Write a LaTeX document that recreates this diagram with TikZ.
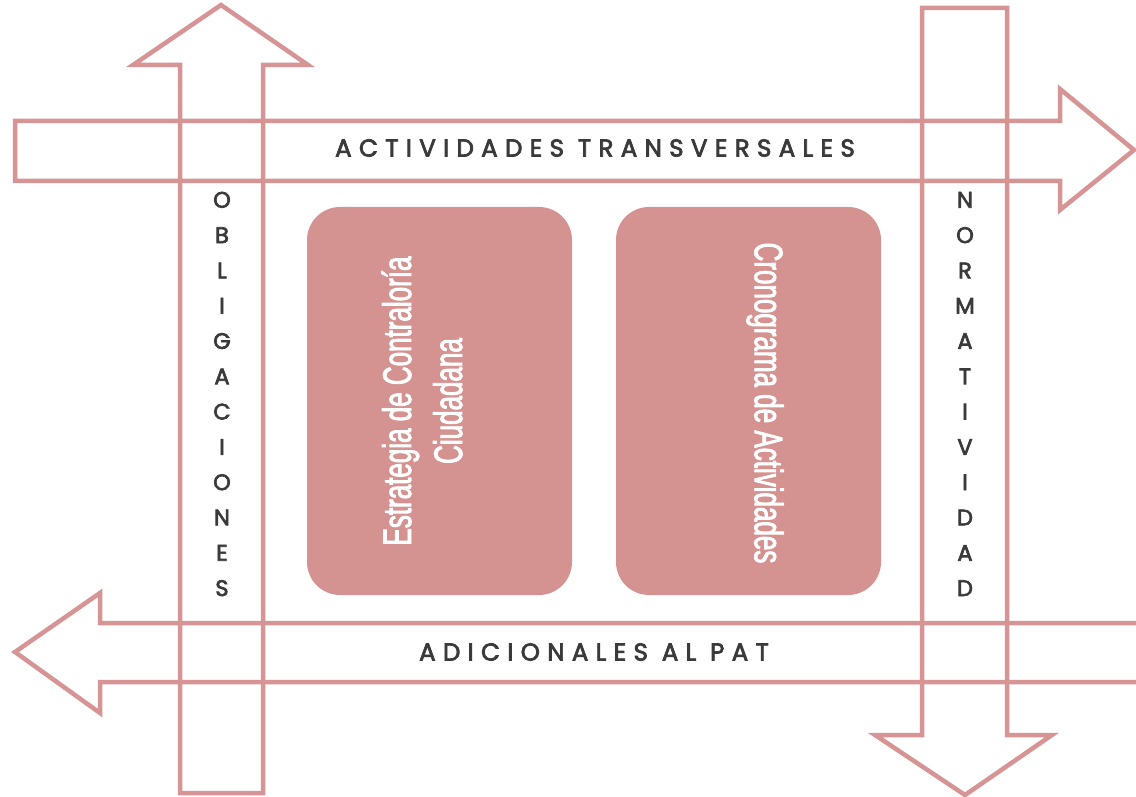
\documentclass[tikz,border=0pt]{standalone}
\usepackage{fontspec}
\setmainfont{Liberation Sans}
\newfontfamily\gothic[FakeBold=3]{Poppins}
\newfontfamily\gothicwide[FakeBold=3,LetterSpace=30]{Poppins}
\newfontfamily\cond[FakeStretch=0.65,FakeBold=2]{Liberation Sans}
\definecolor{rose}{HTML}{D69494}
\definecolor{boxfill}{HTML}{D49290}
\definecolor{ink}{HTML}{3A3A3A}
\begin{document}
\begin{tikzpicture}[x=1pt,y=-1pt,
  outline/.style={draw=rose,line width=4.5pt,line join=miter},
  card/.style={fill=boxfill,rounded corners=33pt,minimum width=265pt,minimum height=388pt,inner sep=0pt},
  cardtext/.style={text=white,align=center,font=\cond\fontsize{40}{51}\selectfont},
  bandtext/.style={text=ink,font=\gothicwide\fontsize{24.5}{26}\selectfont},
  columntext/.style={text=ink,align=center,font=\gothic\fontsize{22.5}{35.3}\selectfont}]
\useasboundingbox (0,0) rectangle (1136,797);
\fill[white] (0,0) rectangle (1136,797);
\begin{scope}
\clip (0,0) rectangle (1136,797);
% up arrow (left)
\draw[outline] (180,793) -- (180,65) -- (133,65) -- (221,5) -- (308,65) -- (263,65) -- (263,793) -- cycle;
% right arrow (top)
\draw[outline] (15,121) -- (1060,121) -- (1060,89) -- (1134,150) -- (1060,210) -- (1060,181) -- (15,181) -- cycle;
% left arrow (bottom)
\draw[outline] (1145,623) -- (100,623) -- (100,593) -- (15,652) -- (100,713) -- (100,682) -- (1145,682);
% down arrow (right)
\draw[outline] (922,8) -- (1007,8) -- (1007,735) -- (1052,735) -- (965,795) -- (875,735) -- (922,735) -- cycle;
\end{scope}
% cards
\node[card] (estr) at (439.5,401) {};
\node[card] (crono) at (748.5,401) {};
\node[cardtext,rotate=90] (estrt) at (422,401) {Estrategia de Contraloría\\Ciudadana};
\node[cardtext,rotate=-90] (cronot) at (765,403) {Cronograma de Actividades};
% band labels
\node[bandtext] (transv) at (595,148) {ACTIVIDADES TRANSVERSALES};
\node[bandtext] (adic) at (594,652) {ADICIONALES AL PAT};
% column labels
\node[columntext] (oblig) at (222,394) {O\\B\\L\\I\\G\\A\\C\\I\\O\\N\\E\\S};
\node[columntext] (norm) at (965,394) {N\\O\\R\\M\\A\\T\\I\\V\\I\\D\\A\\D};
\end{tikzpicture}
\end{document}
